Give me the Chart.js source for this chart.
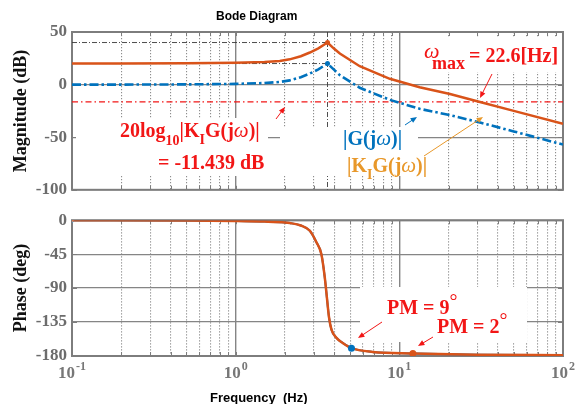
<!DOCTYPE html>
<html>
<head>
<meta charset="utf-8">
<script src="https://cdn.jsdelivr.net/npm/chart.js@4.4.1/dist/chart.umd.min.js"></script>
<style>
  body { margin: 0; background: #fff; }
  #wrap { position: relative; width: 581px; height: 404px; overflow: hidden; }
  canvas { position: absolute; left: 0; }
</style>
</head>
<body>
<div id="wrap">
  <canvas id="magChart" width="581" height="205" style="top:0"></canvas>
  <canvas id="phaseChart" width="581" height="199" style="top:205px"></canvas>
</div>
<script>
// frequency grid (Hz)
const decades = [0.1, 1, 10, 100];
const decadeExps = ['-1', '0', '1', '2'];
const gridFreqs = [0.1, 0.2, 0.3, 0.4, 0.5, 0.6, 0.7, 0.8, 0.9,
  1, 2, 3, 4, 5, 6, 7, 8, 9,
  10, 20, 30, 40, 50, 60, 70, 80, 90, 100];

// magnitude (dB)
const magFreq = [0.1, 0.2, 0.5, 1, 1.5, 1.86, 2.14, 2.5, 2.84, 3.2, 3.64, 4.0, 4.33, 5.73, 8.75, 13.3, 20.4, 31.1, 50, 100];
const magG    = [0, 0, 0.2, 0.7, 1.5, 2.5, 4, 7, 10.5, 14.5, 20, 14, 9, -3, -14.5, -23, -29, -36, -44.5, -57];
const magKG   = [20, 20, 20.2, 20.7, 21.5, 22.5, 24, 27, 30.5, 34.5, 40, 34, 29.5, 17.5, 5.5, -2.5, -9, -16.5, -25, -37.3];

// phase (deg), same for G and KI*G
const phaseFreq = [0.1, 0.5, 1, 1.5, 2, 2.14, 2.5, 2.84, 3.11, 3.34, 3.5, 3.58, 3.72, 3.85, 4.13, 4.53, 5.1, 6.88, 12.1, 30, 100];
const phaseDeg  = [0, -0.3, -1, -1.8, -3, -3.75, -7, -14, -29, -45, -75, -95, -129, -145, -156, -163, -169.6, -174.6, -176.6, -178.2, -179];

const peakFreq = 3.64;
const peakG = 20;
const peakKG = 40;
const limitDb = -16.5;
const pmFreq = [5.1, 12.1];
const pmDeg = [-169.6, -176.6];

const magTicks = [50, 0, -50, -100];
const phaseTicks = [0, -45, -90, -135, -180];

const ORANGE = '#D95319';
const BLUE = '#0072BD';
const RED = '#F21616';
const GOLD = '#E8982A';
const B20 = 'bold 20px "Liberation Serif"';
const S14 = 'bold 14px "Liberation Serif"';
const W20 = 'italic 21px "Liberation Serif"';

function pts(xs, ys) {
  return xs.map((x, i) => ({ x: x, y: ys[i] }));
}

function freqAxis() {
  return {
    type: 'logarithmic', min: 0.1, max: 100,
    afterBuildTicks: s => { s.ticks = gridFreqs.map(v => ({ value: v, major: decades.includes(v) })); },
    afterFit: s => { s.height = 0; },
    ticks: { display: false },
    grid: {
      drawTicks: false,
      color: c => (c.tick && c.tick.major) ? '#858585' : '#8e8e8e',
      lineWidth: c => (c.tick && c.tick.major) ? 1.4 : 1.1
    },
    border: { display: false, dash: c => (c.tick && c.tick.major) ? [] : [1.2, 1.8] }
  };
}

function valueAxis(min, max, vals, title) {
  return {
    min: min, max: max,
    afterBuildTicks: s => { s.ticks = vals.map(v => ({ value: v })); },
    afterFit: s => { s.width = 72; },
    ticks: { color: '#6c6c6c', padding: 5, font: { family: 'Liberation Serif', size: 17, weight: 'bold' } },
    grid: { drawTicks: false, color: '#858585', lineWidth: 1.3 },
    border: { display: false },
    title: {
      display: true, text: title, color: '#111',
      font: { family: 'Liberation Serif', size: 18, weight: 'bold' },
      padding: { top: 11, bottom: 0 }
    }
  };
}

function drawFrame(chart) {
  const ctx = chart.ctx, a = chart.chartArea, sx = chart.scales.x, sy = chart.scales.y;
  ctx.save();
  ctx.strokeStyle = '#7d7d7d';
  ctx.lineWidth = 1;
  ctx.beginPath();
  sx.ticks.forEach(t => {
    const x = Math.round(sx.getPixelForValue(t.value)) + 0.5;
    ctx.moveTo(x, a.top); ctx.lineTo(x, a.top + 4);
    ctx.moveTo(x, a.bottom); ctx.lineTo(x, a.bottom - 4);
  });
  sy.ticks.forEach(t => {
    const y = Math.round(sy.getPixelForValue(t.value)) + 0.5;
    ctx.moveTo(a.left, y); ctx.lineTo(a.left + 5, y);
    ctx.moveTo(a.right, y); ctx.lineTo(a.right - 5, y);
  });
  ctx.stroke();
  ctx.lineWidth = 2;
  ctx.strokeRect(a.left, a.top, a.right - a.left, a.bottom - a.top);
  ctx.restore();
}

function whiteBox(ctx, b) {
  ctx.save();
  ctx.fillStyle = '#fff';
  ctx.fillRect(b[0], b[1], b[2] - b[0], b[3] - b[1]);
  ctx.restore();
}

function rich(ctx, x, y, parts, color) {
  ctx.fillStyle = color;
  ctx.textAlign = 'left';
  ctx.textBaseline = 'alphabetic';
  parts.forEach(p => {
    ctx.font = p[1];
    ctx.fillText(p[0], x, y + (p[2] || 0));
    x += ctx.measureText(p[0]).width;
  });
}

function arrow(ctx, x0, y0, x1, y1, color) {
  const ang = Math.atan2(y1 - y0, x1 - x0), h = 7;
  ctx.save();
  ctx.strokeStyle = color; ctx.fillStyle = color; ctx.lineWidth = 1;
  ctx.beginPath();
  ctx.moveTo(x0, y0);
  ctx.lineTo(x1 - h * 0.8 * Math.cos(ang), y1 - h * 0.8 * Math.sin(ang));
  ctx.stroke();
  ctx.beginPath();
  ctx.moveTo(x1, y1);
  ctx.lineTo(x1 - h * Math.cos(ang - 0.4), y1 - h * Math.sin(ang - 0.4));
  ctx.lineTo(x1 - h * Math.cos(ang + 0.4), y1 - h * Math.sin(ang + 0.4));
  ctx.closePath();
  ctx.fill();
  ctx.restore();
}

const magBoxes = [[76, 118, 268, 176], [280, 127, 418, 176], [420, 38, 562, 72]];

const magDecor = {
  id: 'magDecor',
  beforeDatasetsDraw(chart) { drawFrame(chart); },
  afterDatasetDraw(chart, args) {
    if (chart.data.datasets[args.index].coverAfter) magBoxes.forEach(b => whiteBox(chart.ctx, b));
  },
  afterDraw(chart) {
    const ctx = chart.ctx;
    ctx.save();
    ctx.font = 'bold 12px "Liberation Sans"';
    ctx.fillStyle = '#000';
    ctx.fillText('Bode Diagram', 216, 20);

    rich(ctx, 120, 137, [['20log', B20], ['10', S14, 8], ['|K', B20], ['I', S14, 7], ['G(j', B20], ['\u03c9', W20], [')|', B20]], RED);
    rich(ctx, 158, 169, [['= -11.439 dB', B20]], RED);
    arrow(ctx, 276, 119, 285, 107, RED);

    rich(ctx, 343, 145, [['|G(j', B20], ['\u03c9', W20], [')|', B20]], BLUE);
    arrow(ctx, 405, 125, 417, 117, BLUE);
    rich(ctx, 347, 172, [['|K', B20], ['I', S14, 7], ['G(j', B20], ['\u03c9', W20], [')|', B20]], GOLD);
    arrow(ctx, 424, 156, 483, 117, GOLD);

    ctx.fillStyle = RED;
    ctx.font = 'italic 22px "Liberation Serif"';
    ctx.fillText('\u03c9', 424, 58);
    ctx.font = 'bold 18px "Liberation Serif"';
    ctx.fillText('max', 432, 69);
    ctx.font = B20;
    ctx.fillText('= 22.6[Hz]', 469, 62);
    arrow(ctx, 492, 74, 480, 98, RED);
    ctx.restore();
  }
};

const phaseDecor = {
  id: 'phaseDecor',
  beforeDatasetsDraw(chart) {
    drawFrame(chart);
    whiteBox(chart.ctx, [360, 82, 527, 137]);
  },
  afterDraw(chart) {
    const ctx = chart.ctx, sx = chart.scales.x;
    ctx.save();
    ctx.fillStyle = '#777';
    decades.forEach((v, i) => {
      const x = sx.getPixelForValue(v);
      ctx.font = 'bold 17px "Liberation Serif"';
      const w1 = ctx.measureText('10').width;
      ctx.font = 'bold 12px "Liberation Serif"';
      const w2 = ctx.measureText(decadeExps[i]).width;
      const x0 = x - (w1 + w2 + 1) / 2;
      ctx.font = 'bold 17px "Liberation Serif"';
      ctx.fillText('10', x0, 173);
      ctx.font = 'bold 12px "Liberation Serif"';
      ctx.fillText(decadeExps[i], x0 + w1 + 1, 165);
    });
    ctx.fillStyle = '#000';
    ctx.font = 'bold 13px "Liberation Sans"';
    ctx.fillText('Frequency  (Hz)', 210, 197);

    rich(ctx, 387, 109, [['PM = 9', B20], ['\u00b0', '20px "Liberation Serif"', -6]], RED);
    arrow(ctx, 382, 117, 358, 133, RED);
    rich(ctx, 437, 128, [['PM = 2', B20], ['\u00b0', '20px "Liberation Serif"', -6]], RED);
    arrow(ctx, 433, 132, 418, 141, RED);
    ctx.restore();
  }
};

const common = {
  responsive: false,
  animation: false,
  devicePixelRatio: 1,
  events: [],
  plugins: { legend: { display: false }, tooltip: { enabled: false }, title: { display: false } }
};

new Chart(document.getElementById('magChart'), {
  type: 'line',
  data: {
    datasets: [
      {
        data: [{ x: 0.1, y: peakKG }, { x: peakFreq, y: peakKG }, { x: peakFreq, y: null },
               { x: 0.1, y: peakG }, { x: peakFreq, y: peakG }, { x: peakFreq, y: null },
               { x: peakFreq, y: 50 }, { x: peakFreq, y: -100 }],
        borderColor: '#3a3a3a', borderWidth: 0.9, borderDash: [5, 2, 1, 2],
        pointRadius: 0, spanGaps: false, order: 4, coverAfter: true
      },
      {
        data: [{ x: 0.1, y: limitDb }, { x: 100, y: limitDb }],
        borderColor: RED, borderWidth: 1.3, borderDash: [6, 3, 1.5, 3], pointRadius: 0, order: 3
      },
      {
        data: pts(magFreq, magG),
        borderColor: BLUE, borderWidth: 2.6, borderDash: [9, 3, 2.5, 3], pointRadius: 0, order: 2
      },
      {
        data: pts(magFreq, magKG),
        borderColor: ORANGE, borderWidth: 2.5, pointRadius: 0, order: 1
      },
      {
        data: [{ x: peakFreq, y: peakG }, { x: peakFreq, y: peakKG }],
        showLine: false, pointRadius: 2.5, borderWidth: 0,
        pointBackgroundColor: [BLUE, ORANGE], order: 0
      }
    ]
  },
  options: Object.assign({}, common, {
    layout: { padding: { top: 32, right: 18, bottom: 7, left: 0 } },
    scales: { x: freqAxis(), y: valueAxis(-100, 50, magTicks, 'Magnitude (dB)') }
  }),
  plugins: [magDecor]
});

const phaseX = freqAxis();
phaseX.afterFit = s => { s.height = 48; };

new Chart(document.getElementById('phaseChart'), {
  type: 'line',
  data: {
    datasets: [
      {
        data: pts(phaseFreq, phaseDeg),
        borderColor: BLUE, borderWidth: 2, cubicInterpolationMode: 'monotone',
        pointRadius: c => c.dataIndex === 0 ? 2 : 0,
        pointBackgroundColor: '#fff', pointBorderColor: '#3fa0d8', pointBorderWidth: 1, order: 2
      },
      {
        data: pts(phaseFreq, phaseDeg),
        borderColor: ORANGE, borderWidth: 2.5, cubicInterpolationMode: 'monotone', pointRadius: 0, order: 1
      },
      {
        data: pts(pmFreq, pmDeg),
        showLine: false, pointRadius: 3.5, borderWidth: 0,
        pointBackgroundColor: [BLUE, ORANGE], order: 0
      }
    ]
  },
  options: Object.assign({}, common, {
    layout: { padding: { top: 6, right: 18, bottom: 0, left: 0 } },
    scales: { x: phaseX, y: valueAxis(-180, 0, phaseTicks, 'Phase (deg)') }
  }),
  plugins: [phaseDecor]
});
</script>
</body>
</html>
